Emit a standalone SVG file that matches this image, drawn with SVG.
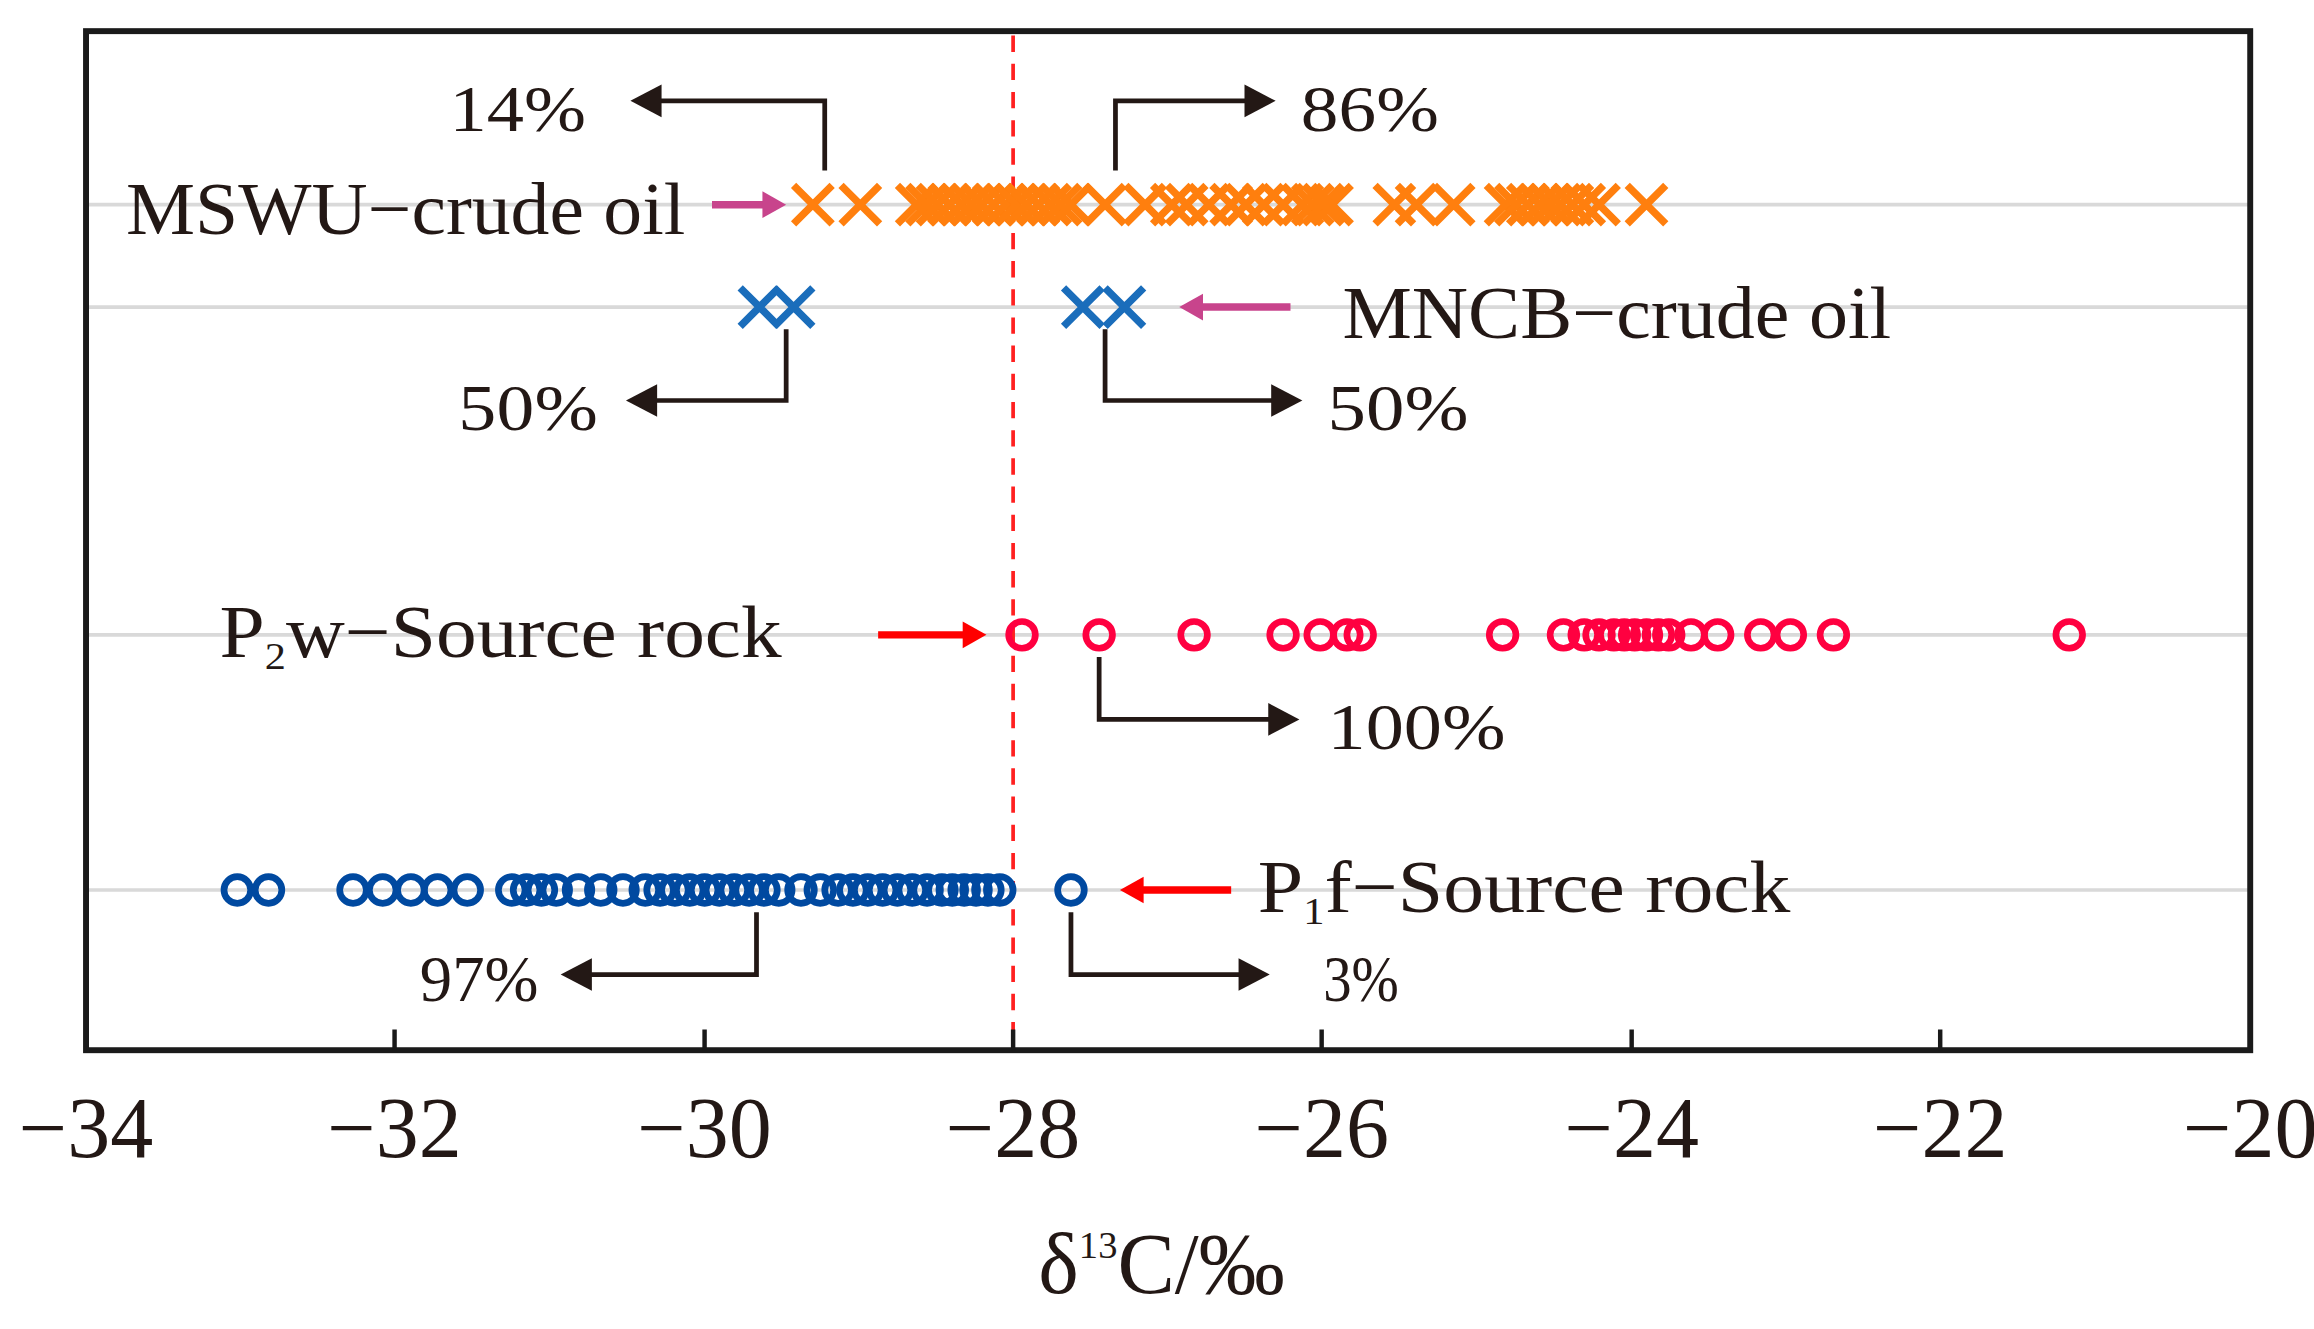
<svg xmlns="http://www.w3.org/2000/svg" xmlns:xlink="http://www.w3.org/1999/xlink" width="2314" height="1329" viewBox="0 0 2314 1329">
<style>
text{font-family:"Liberation Serif","Times New Roman",serif;fill:#231815}
.tick{font-size:58px}
.lab{font-size:50px}
.pct{font-size:44px}
.grid{stroke:#d9d9d9;stroke-width:2.5}
.conn{fill:none;stroke:#231815;stroke-width:3.2}
</style>
<defs>
<path id="ox" d="M-13,-13L13,13M-13,13L13,-13" stroke="#ff7f0e" stroke-width="5" fill="none"/>
<path id="bx" d="M-13,-13L13,13M-13,13L13,-13" stroke="#1a6dbb" stroke-width="5" fill="none"/>
<circle id="rc" r="9" fill="none" stroke="#ff0040" stroke-width="4.5"/>
<circle id="bc" r="9" fill="none" stroke="#0049a0" stroke-width="4.5"/>
</defs>
<rect width="2314" height="1329" fill="#fff"/>
<g transform="scale(1.48333)">
<g id="axes">
<line class="grid" x1="58" y1="138" x2="1517" y2="138"/>
<line class="grid" x1="58" y1="207" x2="1517" y2="207"/>
<line class="grid" x1="58" y1="428" x2="1517" y2="428"/>
<line class="grid" x1="58" y1="600" x2="1517" y2="600"/>
<line x1="683" y1="24" x2="683" y2="706" stroke="#ff2020" stroke-width="2.5" stroke-dasharray="11,8"/>
<rect x="58" y="21" width="1459" height="687" fill="none" stroke="#1a1a1a" stroke-width="4"/>
<path d="M266,708v-14M475,708v-14M683,708v-14M891,708v-14M1100,708v-14M1308,708v-14" stroke="#1a1a1a" stroke-width="3"/>
<text class="tick" x="58" y="780" text-anchor="middle">−34</text>
<text class="tick" x="266" y="780" text-anchor="middle">−32</text>
<text class="tick" x="475" y="780" text-anchor="middle">−30</text>
<text class="tick" x="683" y="780" text-anchor="middle">−28</text>
<text class="tick" x="891" y="780" text-anchor="middle">−26</text>
<text class="tick" x="1100" y="780" text-anchor="middle">−24</text>
<text class="tick" x="1308" y="780" text-anchor="middle">−22</text>
<text class="tick" x="1517" y="780" text-anchor="middle">−20</text>
<text class="tick" x="700" y="872" font-size="52">δ<tspan font-size="26" dy="-24">13</tspan><tspan dy="24">C/‰</tspan></text>
</g>
<g id="mswu">
<text class="lab" x="85" y="158" textLength="377" lengthAdjust="spacingAndGlyphs">MSWU−crude oil</text>
<use href="#ox" x="548" y="138"/><use href="#ox" x="580" y="138"/><use href="#ox" x="618" y="138"/><use href="#ox" x="625" y="138"/><use href="#ox" x="632" y="138"/><use href="#ox" x="640" y="138"/><use href="#ox" x="648" y="138"/><use href="#ox" x="655" y="138"/><use href="#ox" x="662" y="138"/><use href="#ox" x="670" y="138"/><use href="#ox" x="678" y="138"/><use href="#ox" x="685" y="138"/><use href="#ox" x="692" y="138"/><use href="#ox" x="700" y="138"/><use href="#ox" x="708" y="138"/><use href="#ox" x="715" y="138"/><use href="#ox" x="722" y="138"/><use href="#ox" x="745" y="138"/><use href="#ox" x="772" y="138"/><use href="#ox" x="790" y="138"/><use href="#ox" x="800" y="138"/><use href="#ox" x="815" y="138"/><use href="#ox" x="830" y="138"/><use href="#ox" x="840" y="138"/><use href="#ox" x="852" y="138"/><use href="#ox" x="865" y="138"/><use href="#ox" x="878" y="138"/><use href="#ox" x="885" y="138"/><use href="#ox" x="892" y="138"/><use href="#ox" x="898" y="138"/><use href="#ox" x="940" y="138"/><use href="#ox" x="955" y="138"/><use href="#ox" x="980" y="138"/><use href="#ox" x="1015" y="138"/><use href="#ox" x="1022" y="138"/><use href="#ox" x="1030" y="138"/><use href="#ox" x="1038" y="138"/><use href="#ox" x="1045" y="138"/><use href="#ox" x="1052" y="138"/><use href="#ox" x="1060" y="138"/><use href="#ox" x="1068" y="138"/><use href="#ox" x="1078" y="138"/><use href="#ox" x="1110" y="138"/>
<text class="pct" x="303" y="88" textLength="92" lengthAdjust="spacingAndGlyphs">14%</text>
<text class="pct" x="877" y="88" textLength="93" lengthAdjust="spacingAndGlyphs">86%</text>
</g>
<g id="mncb">
<text class="lab" x="905" y="228" textLength="370" lengthAdjust="spacingAndGlyphs">MNCB−crude oil</text>
<use href="#bx" x="512" y="207"/><use href="#bx" x="535" y="207"/><use href="#bx" x="730" y="207"/><use href="#bx" x="758" y="207"/>
<text class="pct" x="309" y="290" textLength="94" lengthAdjust="spacingAndGlyphs">50%</text>
<text class="pct" x="895" y="290" textLength="95" lengthAdjust="spacingAndGlyphs">50%</text>
</g>
<g id="p2w">
<text class="lab" x="148" y="443" textLength="379" lengthAdjust="spacingAndGlyphs">P<tspan font-size="26" dy="8">2</tspan><tspan dy="-8">w−Source  rock</tspan></text>
<use href="#rc" x="689" y="428"/><use href="#rc" x="741" y="428"/><use href="#rc" x="805" y="428"/><use href="#rc" x="865" y="428"/><use href="#rc" x="890" y="428"/><use href="#rc" x="908" y="428"/><use href="#rc" x="917" y="428"/><use href="#rc" x="1013" y="428"/><use href="#rc" x="1054" y="428"/><use href="#rc" x="1068" y="428"/><use href="#rc" x="1078" y="428"/><use href="#rc" x="1088" y="428"/><use href="#rc" x="1095" y="428"/><use href="#rc" x="1102" y="428"/><use href="#rc" x="1110" y="428"/><use href="#rc" x="1118" y="428"/><use href="#rc" x="1125" y="428"/><use href="#rc" x="1140" y="428"/><use href="#rc" x="1158" y="428"/><use href="#rc" x="1187" y="428"/><use href="#rc" x="1207" y="428"/><use href="#rc" x="1236" y="428"/><use href="#rc" x="1395" y="428"/>
<text class="pct" x="895" y="505" textLength="120" lengthAdjust="spacingAndGlyphs">100%</text>
</g>
<g id="p1f">
<text class="lab" x="848" y="615" textLength="359" lengthAdjust="spacingAndGlyphs">P<tspan font-size="26" dy="8">1</tspan><tspan dy="-8">f−Source  rock</tspan></text>
<use href="#bc" x="160" y="600"/><use href="#bc" x="181" y="600"/><use href="#bc" x="238" y="600"/><use href="#bc" x="258" y="600"/><use href="#bc" x="277" y="600"/><use href="#bc" x="295" y="600"/><use href="#bc" x="315" y="600"/><use href="#bc" x="345" y="600"/><use href="#bc" x="355" y="600"/><use href="#bc" x="365" y="600"/><use href="#bc" x="375" y="600"/><use href="#bc" x="390" y="600"/><use href="#bc" x="405" y="600"/><use href="#bc" x="420" y="600"/><use href="#bc" x="435" y="600"/><use href="#bc" x="445" y="600"/><use href="#bc" x="455" y="600"/><use href="#bc" x="465" y="600"/><use href="#bc" x="475" y="600"/><use href="#bc" x="485" y="600"/><use href="#bc" x="495" y="600"/><use href="#bc" x="505" y="600"/><use href="#bc" x="515" y="600"/><use href="#bc" x="525" y="600"/><use href="#bc" x="540" y="600"/><use href="#bc" x="553" y="600"/><use href="#bc" x="565" y="600"/><use href="#bc" x="575" y="600"/><use href="#bc" x="585" y="600"/><use href="#bc" x="595" y="600"/><use href="#bc" x="605" y="600"/><use href="#bc" x="615" y="600"/><use href="#bc" x="625" y="600"/><use href="#bc" x="635" y="600"/><use href="#bc" x="642" y="600"/><use href="#bc" x="650" y="600"/><use href="#bc" x="658" y="600"/><use href="#bc" x="666" y="600"/><use href="#bc" x="674" y="600"/><use href="#bc" x="722" y="600"/>
<text class="pct" x="283" y="675" textLength="80" lengthAdjust="spacingAndGlyphs">97%</text>
<text class="pct" x="892" y="675" textLength="51" lengthAdjust="spacingAndGlyphs">3%</text>
</g>
<g id="connectors">
<path class="conn" d="M556,115V68H440"/><path d="M425,68L446,57V79z" fill="#231815"/>
<path class="conn" d="M752,115V68H845"/><path d="M860,68L839,57V79z" fill="#231815"/>
<path class="conn" d="M530,222V270H437"/><path d="M422,270L443,259V281z" fill="#231815"/>
<path class="conn" d="M745,222V270H863"/><path d="M878,270L857,259V281z" fill="#231815"/>
<path class="conn" d="M741,443V485H861"/><path d="M876,485L855,474V496z" fill="#231815"/>
<path class="conn" d="M510,615V657H393"/><path d="M378,657L399,646V668z" fill="#231815"/>
<path class="conn" d="M722,615V657H841"/><path d="M856,657L835,646V668z" fill="#231815"/>
<path d="M480,138H515" stroke="#c8448c" stroke-width="5"/><path d="M530,138L514,129V147z" fill="#c8448c"/>
<path d="M870,207H810" stroke="#c8448c" stroke-width="5"/><path d="M795,207L811,198V216z" fill="#c8448c"/>
<path d="M592,428H650" stroke="#ff0000" stroke-width="5"/><path d="M665,428L649,419V437z" fill="#ff0000"/>
<path d="M830,600H770" stroke="#ff0000" stroke-width="5"/><path d="M755,600L771,591V609z" fill="#ff0000"/>
</g>
</g>
</svg>
